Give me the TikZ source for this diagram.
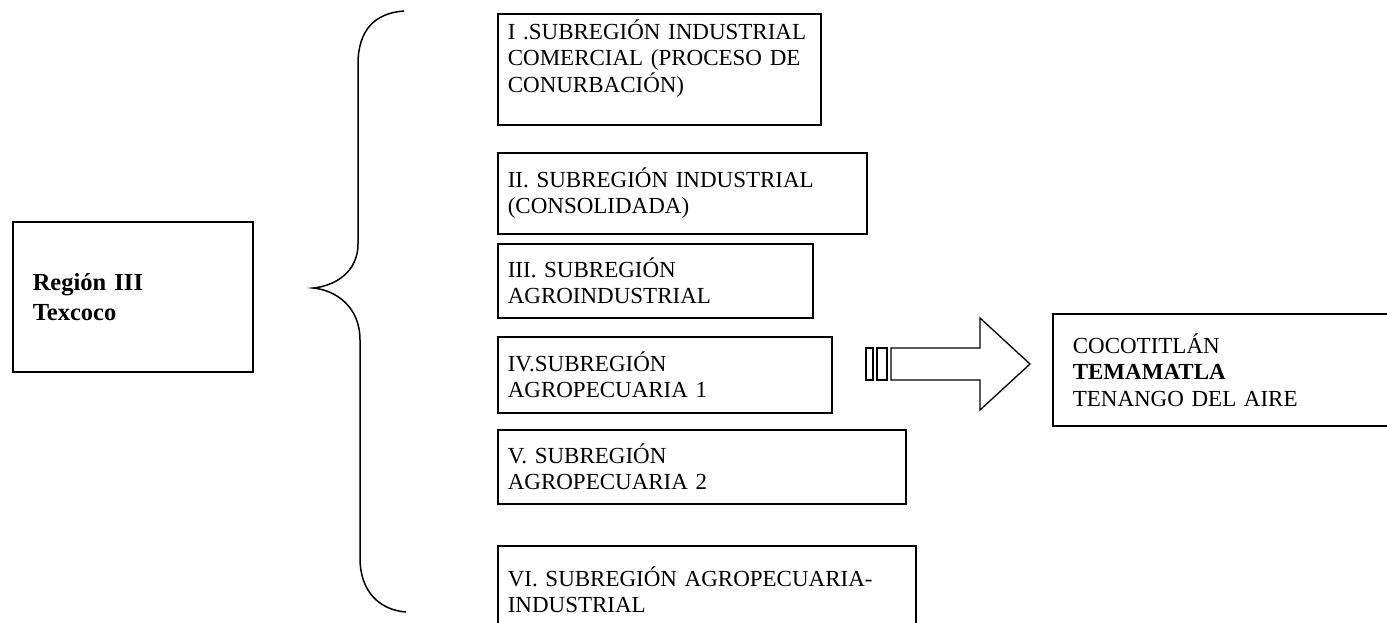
\documentclass[tikz,border=0pt]{standalone}
\usepackage{fontspec}
\setmainfont{Liberation Serif}
\usetikzlibrary{positioning}
\tikzset{
	caja/.style={draw, line width=1.6pt, anchor=north west, align=left,
		inner xsep=10pt, inner ysep=0pt, font=\fontsize{23}{26.5}\selectfont},
	llave/.style={line width=1.5pt},
	flecha/.style={line width=1.3pt},
}
\begin{document}
\begin{tikzpicture}[x=1pt, y=-1pt]
	\useasboundingbox (0,0) rectangle (1387,622);
	% region
	\node[caja, inner xsep=20pt, text width=200pt, minimum height=150pt,
		font=\fontsize{24.5}{30}\selectfont\bfseries] (region) at (12,221) {Región III\\Texcoco};
	% subregiones
	\node[caja, text width=303pt, minimum height=111pt] (sub1) at (497,13)
		{I .SUBREGIÓN INDUSTRIAL\\COMERCIAL (PROCESO DE\\CONURBACIÓN)\\ \mbox{}};
	\node[caja, text width=349pt, minimum height=81pt] (sub2) at (497,152)
		{II. SUBREGIÓN INDUSTRIAL\\(CONSOLIDADA)};
	\node[caja, text width=295pt, minimum height=74pt] (sub3) at (497,243)
		{III. SUBREGIÓN\\AGROINDUSTRIAL};
	\node[caja, text width=314pt, minimum height=76pt] (sub4) at (497,336)
		{IV.SUBREGIÓN\\AGROPECUARIA 1};
	\node[caja, text width=388pt, minimum height=74pt] (sub5) at (497,429)
		{V. SUBREGIÓN\\AGROPECUARIA 2};
	\node[caja, text width=398pt, minimum height=88pt] (sub6) at (497,545)
		{VI. SUBREGIÓN AGROPECUARIA-\\INDUSTRIAL};
	% municipios
	\node[caja, inner xsep=20pt, text width=308pt, minimum height=112pt] (destino) at (1052,313)
		{COCOTITLÁN\\\textbf{TEMAMATLA}\\TENANGO DEL AIRE};
	% llave
	\coordinate (punta) at (313,288);
	\draw[llave] (404,11) .. controls (375,13) and (358,30) .. (358,64) -- (358,244)
		.. controls (358,272) and (335,286) .. (punta)
		.. controls (335,290) and (360,306) .. (360,340) -- (360,558)
		.. controls (360,592) and (380,610) .. (406,612);
	% flecha
	\coordinate (cola) at (891,364);
	\draw[flecha] (866,348) rectangle (873,380);
	\draw[flecha] (877,348) rectangle (887,380);
	\draw[flecha] (cola) ++(0,-16) -- (980,348) -- (980,318) -- (1030,364)
		-- (980,410) -- (980,380) -- (891,380) -- cycle;
\end{tikzpicture}
\end{document}
